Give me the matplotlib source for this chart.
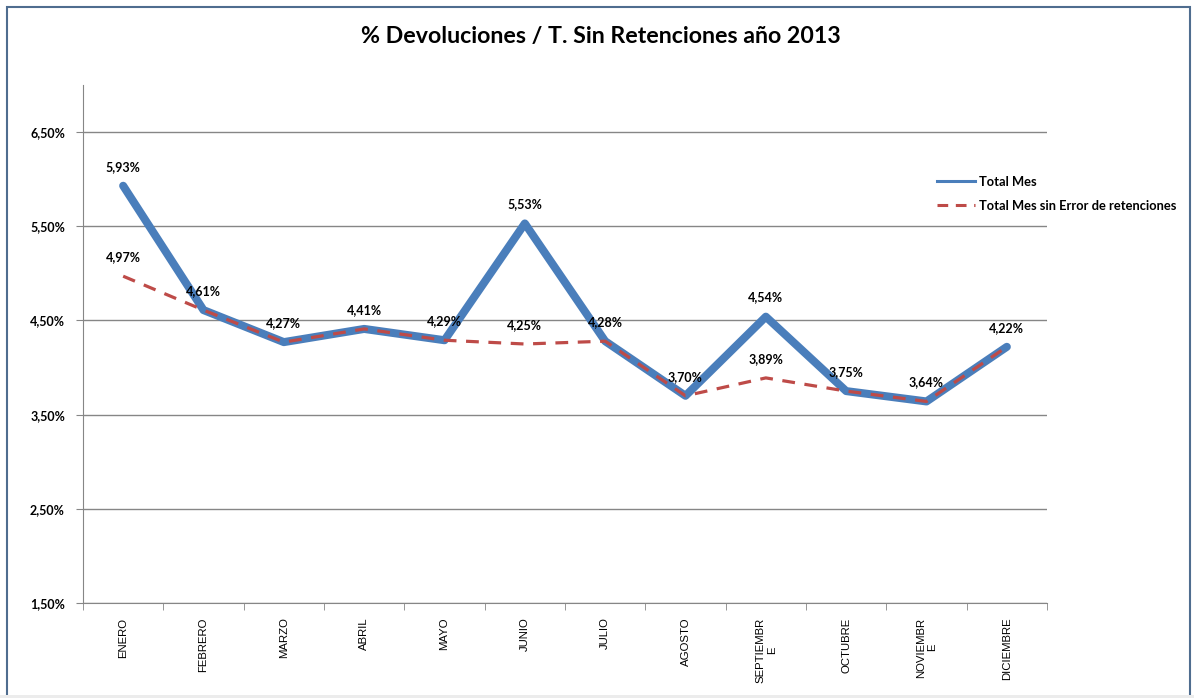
import matplotlib.pyplot as plt
from matplotlib.patches import Rectangle
from matplotlib.lines import Line2D
from matplotlib.ticker import FixedLocator

plt.rcParams['font.family'] = ['Lato', 'DejaVu Sans']

meses = ["ENERO", "FEBRERO", "MARZO", "ABRIL", "MAYO", "JUNIO", "JULIO",
         "AGOSTO", "SEPTIEMBR\nE", "OCTUBRE", "NOVIEMBR\nE", "DICIEMBRE"]
total_mes = [5.93, 4.61, 4.27, 4.41, 4.29, 5.53, 4.28, 3.70, 4.54, 3.75, 3.64, 4.22]
sin_error = [4.97, 4.61, 4.27, 4.41, 4.29, 4.25, 4.28, 3.70, 3.89, 3.75, 3.64, 4.22]
y_ticks = [1.5, 2.5, 3.5, 4.5, 5.5, 6.5]

azul = "#4a7ebb"
rojo = "#be4b48"
gris = "#868686"


def pct(v):
    return f"{v:.2f}%".replace(".", ",")


fig = plt.figure(figsize=(11.94, 6.98), dpi=100)
ax = fig.add_axes([83 / 1194, 1 - 603 / 698, (1047 - 83) / 1194, (603 - 85) / 698])

x = list(range(len(meses)))
ax.plot(x, total_mes, color=azul, lw=5.8, solid_capstyle='round', zorder=3)
ax.plot(x, sin_error, color=rojo, lw=2.3, ls=(0, (4, 3)), zorder=4)

# etiquetas de datos (solo una si los dos valores coinciden)
for i, v in enumerate(total_mes):
    ax.annotate(pct(v), (i, v), xytext=(0, 9.5), textcoords='offset points',
                ha='center', va='bottom', fontsize=9, fontweight='bold', zorder=5)
for i, v in enumerate(sin_error):
    if v != total_mes[i]:
        ax.annotate(pct(v), (i, v), xytext=(0, 9.5), textcoords='offset points',
                    ha='center', va='bottom', fontsize=9, fontweight='bold', zorder=5)

ax.set_xlim(-0.5, len(meses) - 0.5)
ax.set_ylim(1.5, 7.0)
ax.set_yticks(y_ticks)
ax.set_yticklabels([pct(v) for v in y_ticks], fontsize=9, fontweight='bold')
ax.yaxis.grid(True, color=gris, lw=1)
ax.set_axisbelow(True)

ax.set_xticks(x)
ax.set_xticklabels(meses, rotation=90, fontsize=8.2, family='Liberation Sans',
                   va='top', ha='center', multialignment='center')
ax.xaxis.set_minor_locator(FixedLocator([i + 0.5 for i in range(-1, len(meses))]))
ax.tick_params(axis='x', which='major', length=0, pad=10.5)
ax.tick_params(axis='x', which='minor', length=5, color=gris)
ax.tick_params(axis='y', length=5, color=gris, pad=8)

for s in ['top', 'right']:
    ax.spines[s].set_visible(False)
for s in ['left', 'bottom']:
    ax.spines[s].set_color(gris)

fig.text(601 / 1194, 1 - 37 / 698, "% Devoluciones / T. Sin Retenciones año 2013",
         ha='center', va='center', fontsize=16.7, fontweight='bold')

handles = [Line2D([], [], color=azul, lw=2.2),
           Line2D([], [], color=rojo, lw=2.2, ls=(0, (3.5, 2.5)))]
fig.legend(handles, ["Total Mes", "Total Mes sin Error de retenciones"],
           loc='upper left', bbox_to_anchor=(925 / 1194, 1 - 164 / 698), frameon=False,
           prop={'size': 9.3, 'weight': 'bold'}, handlelength=3, handletextpad=0.3,
           labelspacing=0.95)

fig.patches.append(Rectangle((7 / 1194, -0.02), 1183 / 1194, 1.02 - 7 / 698,
                             transform=fig.transFigure, fill=False,
                             edgecolor="#4f6d8f", lw=1.5))
fig.patches.append(Rectangle((0, 0), 1, 3 / 698, transform=fig.transFigure,
                             facecolor="#ececec", edgecolor='none'))

fig.savefig("out.png", dpi=100)
